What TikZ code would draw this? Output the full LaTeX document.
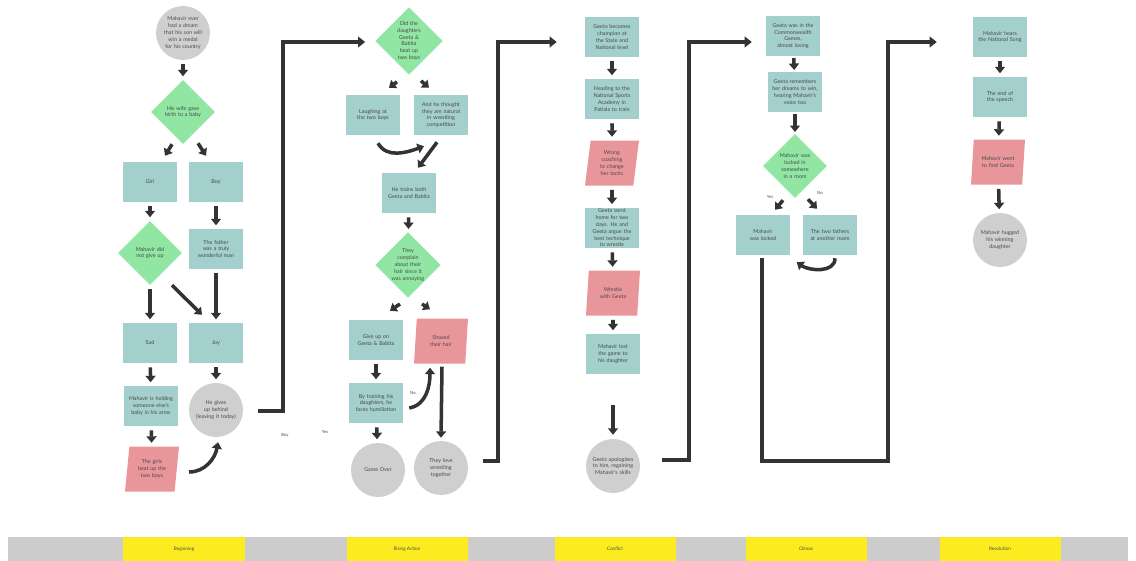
\documentclass[tikz,border=0pt]{standalone}
\usepackage{fontspec}
\setmainfont{Lato}
\usetikzlibrary{shapes.geometric,arrows.meta,calc}
\definecolor{boxteal}{HTML}{A3CFCC}
\definecolor{choicegreen}{HTML}{90E6A2}
\definecolor{eventpink}{HTML}{E9969B}
\definecolor{endgray}{HTML}{CFCFCF}
\definecolor{bandgray}{HTML}{CCCCCC}
\definecolor{bandyellow}{HTML}{FCEC1F}
\definecolor{inkdark}{HTML}{333333}
\definecolor{inkgray}{HTML}{4A4A4A}
\hyphenpenalty=10000
\exhyphenpenalty=10000

\begin{document}
\begin{tikzpicture}[x=0.03cm, y=-0.03cm,
  every node/.style = {font=\fontsize{4.6}{5.8}\selectfont, text=inkgray, align=center},
  box/.style = {rectangle, fill=boxteal, minimum width=1.62cm, minimum height=1.2cm,
    text width=1.4cm, inner sep=1pt},
  choice/.style = {diamond, aspect=1, fill=choicegreen, minimum size=1.92cm,
    inner sep=0pt, text width=1.1cm},
  event/.style = {trapezium, trapezium left angle=78, trapezium right angle=102,
    trapezium stretches body, fill=eventpink, minimum width=1.62cm,
    minimum height=1.35cm, inner sep=1pt, text width=1.0cm},
  ends/.style = {circle, fill=endgray, minimum size=1.62cm, inner sep=0pt, text width=1.25cm},
  flow/.style = {draw=inkdark, line width=3pt, -{Triangle[width=8.5pt,length=5.5pt]}},
  link/.style = {flow, shorten <=3.5pt, shorten >=3pt},
  near/.style = {flow, shorten <=1.5pt, shorten >=1.5pt},
  jump/.style = {draw=inkdark, line width=3.3pt, -{Triangle[width=9pt,length=6pt]}},
  tag/.style = {font=\fontsize{3.6}{4.2}\selectfont},
  stage/.style = {fill=bandyellow, minimum width=3.63cm, minimum height=0.72cm,
    inner sep=0pt, font=\fontsize{4}{5}\selectfont}
  ]
  \useasboundingbox (0,0) rectangle (1136,561);

  % beginning
  \node[ends] (dream) at (183,33) {Mahavir ever had a dream that his son will win a medal for his country};
  \node[choice] (d1) at (183,112) {His wife gave birth to a baby};
  \node[box] (girl) at (150,182) {Girl};
  \node[box] (boy) at (216,182) {Boy};
  \node[choice, text width=1.0cm] (d2) at (150,253) {Mahavir did not give up};
  \node[box] (father) at (216,249) {The father was a truly wonderful man};
  \node[box] (sad) at (150,343) {Sad};
  \node[box] (joy) at (216,343) {Joy};
  \node[box] (hold) at (151,406) {Mahavir is holding someone else's baby in his arms};
  \node[ends] (gives) at (216,410) {He gives up behind (leaving it today)};
  \node[event] (beat) at (152,469) {The girls beat up the two boys};
  \node[tag] (tboy) at (285,435) {Boy};
  \node[tag] (tyes) at (325,432) {Yes};

  \draw[link] (dream) -- (d1);
  \draw[flow] ($(d1.south)+(-11,0)$) -- ($(girl.north)+(15,-6)$);
  \draw[flow] ($(d1.south)+(15,-1)$) -- ($(boy.north)+(-10,-6)$);
  \draw[link] (girl) -- (d2);
  \draw[link] (boy) -- (father);
  \draw[link] (d2) -- (sad);
  \draw[flow] ($(d2.south)+(22,0)$) -- ($(joy.north)+(-14,-8)$);
  \draw[link] (father) -- (joy);
  \draw[link] (sad) -- (hold);
  \draw[link] (joy) -- (gives);
  \draw[link] (hold) -- (beat);
  \draw[flow] ($(beat.east)+(12,3)$) to[out=0,in=-100] ($(gives.south)+(2,5)$);

  % rising action
  \node[choice, text width=0.85cm] (r1) at (409,41) {Did the daughters Geeta \& Babita beat up two boys};
  \node[box] (laugh) at (373,115) {Laughing at the two boys};
  \node[box] (natural) at (441,115) {And he thought they are natural in wrestling competition};
  \node[box] (trains) at (409,193) {He trains both Geeta and Babita};
  \node[choice, text width=1.0cm] (r2) at (408,265) {They complain about their hair since it was annoying};
  \node[box] (giveup) at (376,340) {Give up on Geeta \& Babita};
  \node[event] (shaved) at (441,341) {Shaved their hair};
  \node[box] (humil) at (376,403) {By training his daughters, he faces humiliation};
  \node[ends] (over) at (378,470) {Game Over};
  \node[ends] (love) at (441,468) {They love wrestling together};
  \node[tag] (tno) at (413,393) {No};

  \draw[jump] ($(gives.east)+(15,1)$) -- ++(25,0) |- ($(r1.west)+(-10,1)$);
  \draw[flow] ($(r1.south)+(-12,7)$) -- ($(laugh.north)+(16,-7)$);
  \draw[flow] ($(r1.south)+(12,6)$) -- ($(natural.north)+(-12,-7)$);
  \draw[flow] ($(laugh.south)+(5,8)$) to[out=-60,in=200] ($(natural.south)+(-17,11)$);
  \draw[flow] ($(natural.south)+(-4,7)$) -- ($(trains.north)+(9,-5)$);
  \draw[link] (trains) -- (r2);
  \draw[flow] ($(r2.south)+(-8,6)$) -- ($(giveup.north)+(14,-9)$);
  \draw[flow] ($(r2.south)+(14,6)$) -- ($(shaved.north)+(-11,-9)$);
  \draw[link] (giveup) -- (humil);
  \draw[flow] ($(humil.east)+(6,5)$) to[out=10,in=-90] ($(shaved.south)+(-11,4)$);
  \draw[link] (humil) -- (over);
  \draw[flow] ($(shaved.south)+(1,3)$) -- ($(love.north)+(0,-3)$);

  % conflict
  \node[box] (champ) at (612,37) {Geeta becomes champion at the State and National level};
  \node[box] (academy) at (612,99) {Heading to the National Sports Academy in Patiala to train};
  \node[event] (wrongc) at (612,163) {Wrong coaching to change her tactic};
  \node[box] (argue) at (612,228) {Geeta went home for two days. He and Geeta argue the best technique to wrestle};
  \node[event] (wrestle) at (613,293) {Wrestle with Geeta};
  \node[box] (lost) at (613,354) {Mahavir lost the game to his daughter};
  \node[ends] (sorry) at (613,466) {Geeta apologizes to him, regaining Mahavir's skills};

  \draw[jump] ($(love.east)+(15,-7)$) -- ++(15,0) |- ($(champ.west)+(-28,5)$);
  \draw[link] (champ) -- (academy);
  \draw[link] (academy) -- (wrongc);
  \draw[link] (wrongc) -- (argue);
  \draw[link] (argue) -- (wrestle);
  \draw[link] (wrestle) -- (lost);
  \draw[flow] ($(lost.south)+(0,31)$) -- ($(sorry.north)+(0,-4)$);

  % climax
  \node[box] (games) at (793,36) {Geeta was in the Commonwealth Games, almost losing};
  \node[box] (remember) at (795,92) {Geeta remembers her dreams to win, hearing Mahavir's voice too};
  \node[choice, text width=1.0cm] (locked) at (795,166) {Mahavir was locked in somewhere in a room};
  \node[box] (waslocked) at (763,235) {Mahavir was locked};
  \node[box] (others) at (830,235) {The two fathers at another room};
  \node[tag] (tyes2) at (770,197) {Yes};
  \node[tag] (tno2) at (820,193) {No};

  \draw[jump] ($(sorry.east)+(22,-6)$) -- ++(27,0) |- ($(games.west)+(-14,6)$);
  \draw[near] (games) -- (remember);
  \draw[near] (remember) -- (locked);
  \draw[flow] ($(locked.south)+(-12,2)$) -- ($(waslocked.north)+(12,-5)$);
  \draw[flow] ($(locked.south)+(13,1)$) -- ($(others.north)+(-13,-6)$);
  \draw[flow] ($(others.south)+(5,3)$) to[out=-90,in=-35] ($(others.south west)+(-6,7)$);

  % resolution
  \node[box] (anthem) at (1000,37) {Mahavir hears the National Song};
  \node[box] (speech) at (1000,97) {The end of the speech};
  \node[event] (find) at (998,162) {Mahavir went to find Geeta};
  \node[ends] (hug) at (1000,240) {Mahavir hugged his winning daughter};

  \draw[jump] ($(waslocked.south)+(-1,3)$) -- ++(0,203) -- ++(126,0) |- ($(anthem.west)+(-36,5)$);
  \draw[link] (anthem) -- (speech);
  \draw[link] (speech) -- (find);
  \draw[link] (find) -- (hug);

  % story stages
  \fill[bandgray] (8,537) rectangle (1128,561);
  \node[stage] (sbeg) at (184,549) {Beginning};
  \node[stage] (srise) at (407,549) {Rising Action};
  \node[stage] (sconf) at (615,549) {Conflict};
  \node[stage] (sclim) at (806,549) {Climax};
  \node[stage] (sres) at (1000,549) {Resolution};
\end{tikzpicture}
\end{document}
